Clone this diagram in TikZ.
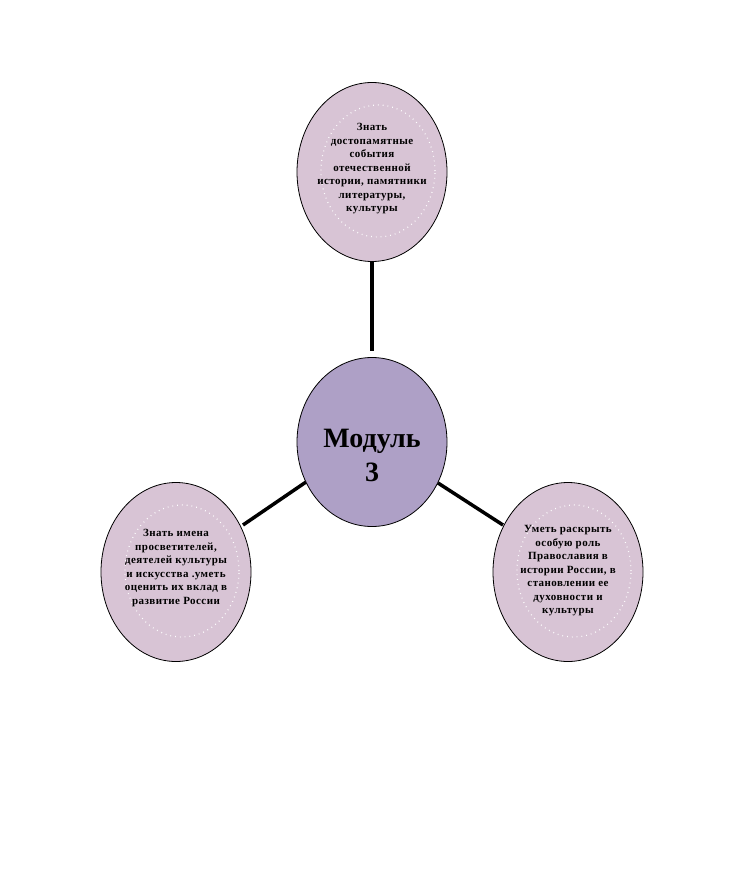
\documentclass[tikz,border=0pt]{standalone}
\usepackage{fontspec}
\setmainfont{Liberation Serif}
\newfontfamily\goalfont[LetterSpace=4]{Liberation Serif}
\usetikzlibrary{shapes.geometric}
\definecolor{outerfill}{RGB}{216,196,213}
\definecolor{centerfill}{RGB}{174,160,198}
\tikzset{
  goal/.style={ellipse, draw=black, line width=0.8pt, fill=outerfill, minimum width=150pt, minimum height=179pt, inner sep=0pt},
  hub/.style={ellipse, draw=black, line width=0.8pt, fill=centerfill, minimum width=150pt, minimum height=169pt, inner sep=0pt},
  link/.style={line width=3.5pt, black},
  glint/.style={white, line width=1.2pt, dash pattern=on 0.8pt off 4pt},
  goaltext/.style={align=center, font=\goalfont\fontsize{11}{13.5}\selectfont\bfseries},
  hubtext/.style={align=center, font=\fontsize{28}{34}\selectfont\bfseries}
}
\begin{document}
\begin{tikzpicture}[x=1pt,y=-1pt]
\useasboundingbox (0,0) rectangle (745,877);
\fill[white] (0,0) rectangle (745,877);
\coordinate (ct) at (372,351);
\coordinate (tb) at (372,262);
\coordinate (lt) at (243,525);
\coordinate (lh) at (306,482);
\coordinate (rt) at (503,525);
\coordinate (rh) at (438,483);
\draw[link] (tb) -- (ct);
\draw[link] (lt) -- (lh);
\draw[link] (rt) -- (rh);
\node[hub] (hub) at (372,442) {};
\node[goal] (top) at (372,172) {};
\node[goal] (left) at (176,572) {};
\node[goal] (right) at (568,572) {};
\draw[glint] (378,171) ellipse (57pt and 66pt);
\draw[glint] (182,571) ellipse (57pt and 66pt);
\draw[glint] (574,571) ellipse (57pt and 66pt);
\node[hubtext] (hubtext) at (372,455) {Модуль\\3};
\node[goaltext] (toptext) at (372,169) {Знать\\достопамятные\\события\\отечественной\\истории, памятники\\литературы,\\культуры};
\node[goaltext] (lefttext) at (176,568) {Знать имена\\просветителей,\\деятелей культуры\\и искусства .уметь\\оценить их вклад в\\развитие России};
\node[goaltext] (righttext) at (568,571) {Уметь раскрыть\\особую роль\\Православия в\\истории России, в\\становлении ее\\духовности и\\культуры};
\end{tikzpicture}
\end{document}
